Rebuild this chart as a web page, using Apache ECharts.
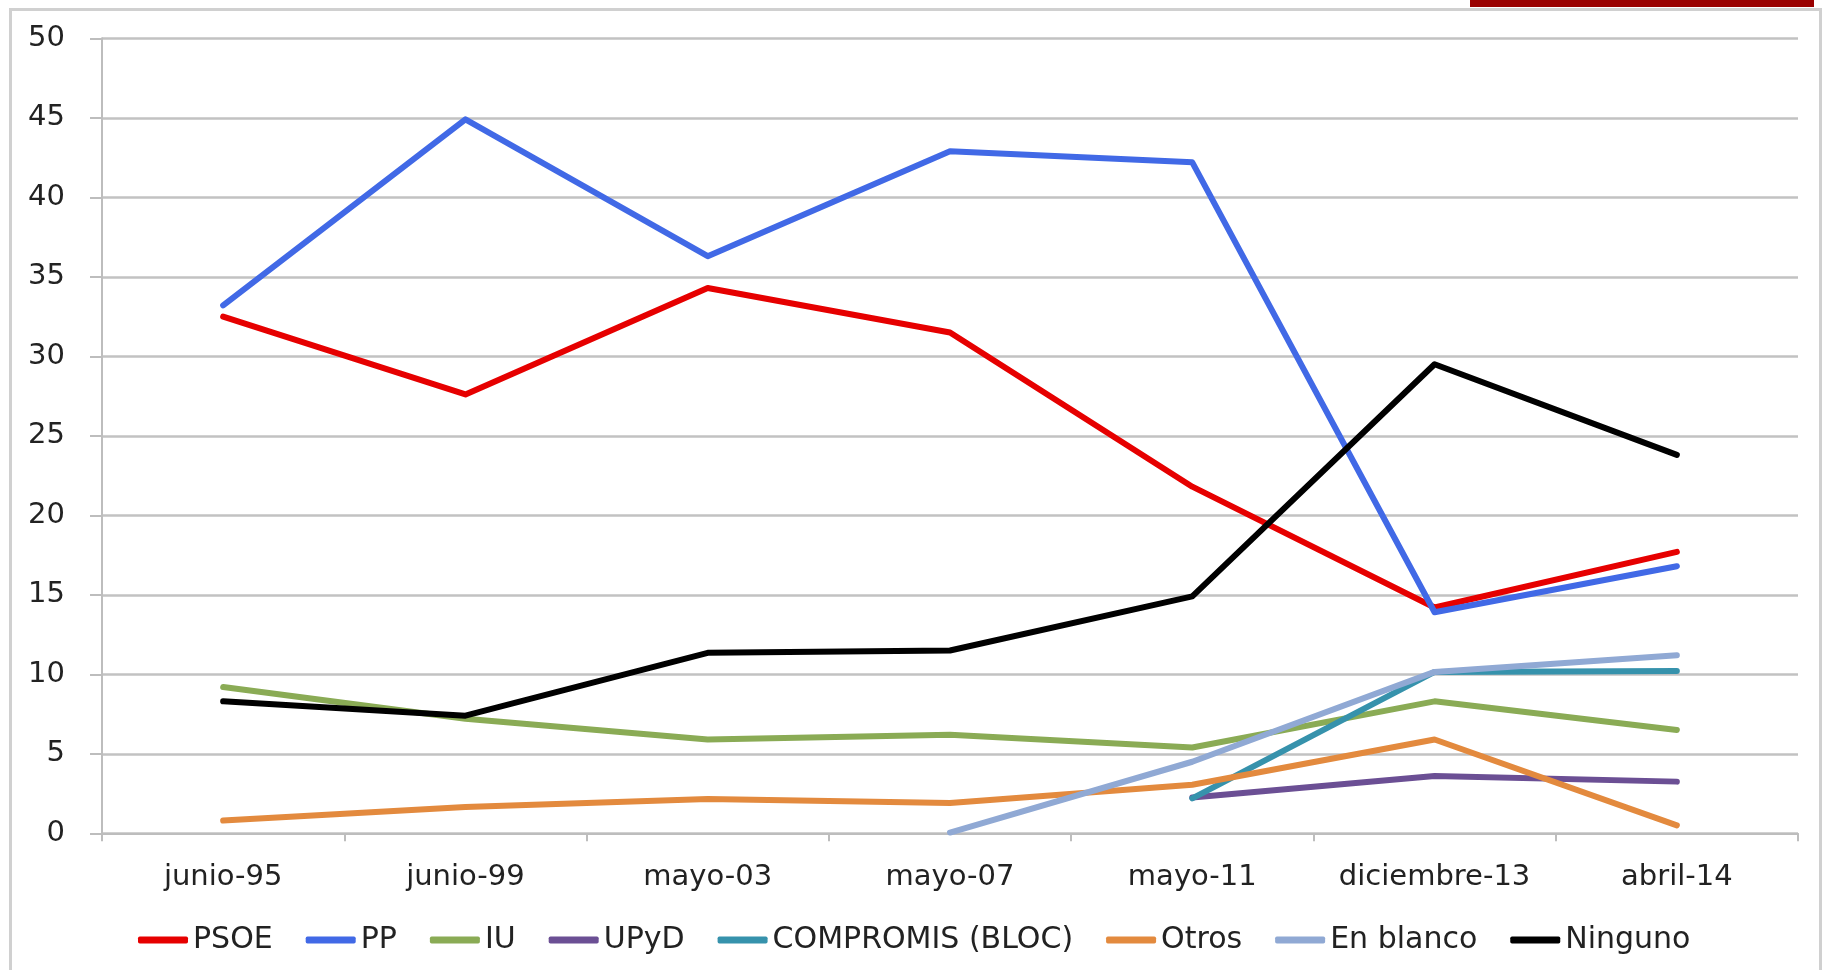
<!DOCTYPE html>
<html>
<head>
<meta charset="utf-8">
<script src="https://cdn.jsdelivr.net/npm/echarts@6/dist/echarts.min.js"></script>
<style>
html,body{margin:0;padding:0;background:#fff;}
#chart{width:1827px;height:970px;}
</style>
</head>
<body>
<div id="chart"></div>
<script>
var categories = ['junio-95','junio-99','mayo-03','mayo-07','mayo-11','diciembre-13','abril-14'];
var psoe      = [32.5, 27.6, 34.3, 31.5, 21.8, 14.2, 17.7];
var pp        = [33.2, 44.9, 36.3, 42.9, 42.2, 13.9, 16.8];
var iu        = [9.2, 7.2, 5.9, 6.2, 5.4, 8.3, 6.5];
var upyd      = [null, null, null, null, 2.25, 3.6, 3.25];
var compromis = [null, null, null, null, 2.2, 10.15, 10.2];
var otros     = [0.8, 1.65, 2.15, 1.9, 3.05, 5.9, 0.5];
var enBlanco  = [null, null, null, 0.05, 4.5, 10.15, 11.2];
var ninguno   = [8.3, 7.4, 11.35, 11.5, 14.9, 29.5, 23.8];
var yTicks = [0, 5, 10, 15, 20, 25, 30, 35, 40, 45, 50];

var seriesDefs = [
  ['PSOE', psoe, '#e60000'],
  ['PP', pp, '#4169e6'],
  ['IU', iu, '#8aab55'],
  ['UPyD', upyd, '#6b4f94'],
  ['COMPROMIS (BLOC)', compromis, '#3692ac'],
  ['Otros', otros, '#e38a3e'],
  ['En blanco', enBlanco, '#90a9d4'],
  ['Ninguno', ninguno, '#000000']
];

var chart = echarts.init(document.getElementById('chart'), null, {renderer: 'canvas'});
var font = '"DejaVu Sans", sans-serif';
chart.setOption({
  animation: false,
  backgroundColor: '#ffffff',
  graphic: [
    {type: 'rect', shape: {x: 10.5, y: 9.5, width: 1810, height: 980}, style: {fill: 'none', stroke: '#d0d0d0', lineWidth: 3}, silent: true},
    {type: 'rect', shape: {x: 1470, y: 0, width: 344, height: 7}, style: {fill: '#9a0000'}, silent: true}
  ],
  grid: {left: 102, right: 29, top: 38.3, bottom: 136.7},
  legend: {
    left: 133, top: 920,
    icon: 'roundRect', itemWidth: 50, itemHeight: 7, itemGap: 33,
    textStyle: {fontFamily: font, fontSize: 30, color: '#222'},
    data: seriesDefs.map(function (s) { return s[0]; })
  },
  xAxis: {
    type: 'category', data: categories, boundaryGap: true,
    axisLine: {lineStyle: {color: '#bdbdbd', width: 2}},
    axisTick: {show: true, length: 8, lineStyle: {color: '#bdbdbd', width: 2}},
    axisLabel: {fontFamily: font, fontSize: 29, color: '#222', margin: 30, interval: 0}
  },
  yAxis: {
    type: 'value', min: 0, max: 50, interval: 5,
    axisLine: {show: true, lineStyle: {color: '#bdbdbd', width: 2}},
    axisTick: {show: true, length: 12, lineStyle: {color: '#bdbdbd', width: 2}},
    splitLine: {show: true, lineStyle: {color: '#c2c2c2', width: 2.5}},
    axisLabel: {fontFamily: font, fontSize: 29, color: '#222', margin: 37,
      formatter: function (v) { return yTicks.indexOf(v) >= 0 ? String(v) : ''; }}
  },
  series: seriesDefs.map(function (s) {
    return {
      name: s[0], type: 'line', data: s[1], symbol: 'none', connectNulls: false,
      lineStyle: {color: s[2], width: 6, cap: 'round', join: 'round'},
      itemStyle: {color: s[2]}
    };
  })
});
</script>
</body>
</html>
